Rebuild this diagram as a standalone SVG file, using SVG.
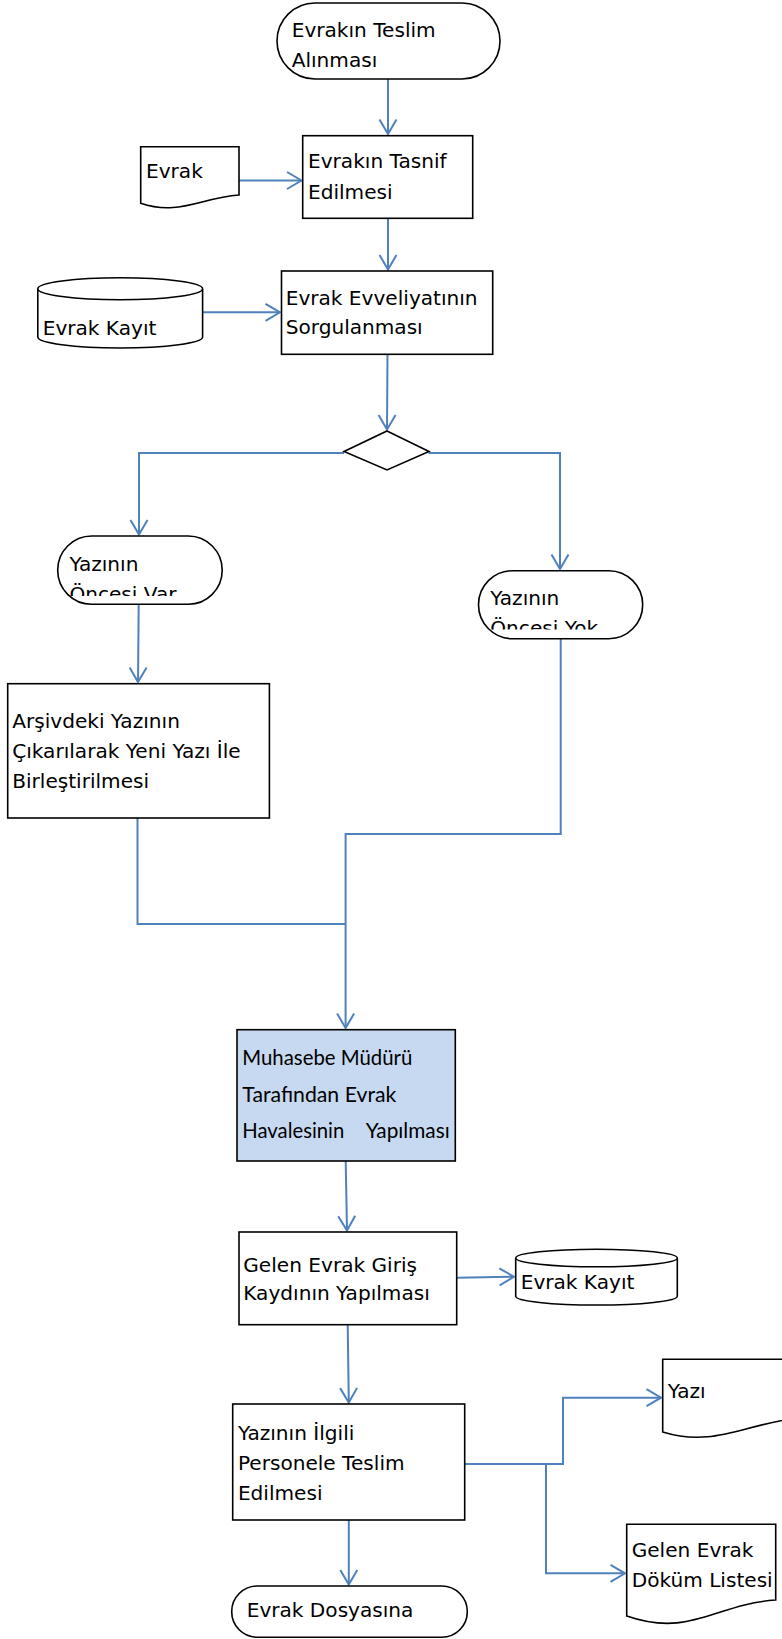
<svg xmlns="http://www.w3.org/2000/svg" width="782" height="1639" viewBox="0 0 782 1639">
<style>
.s{fill:#fff;stroke:#000;stroke-width:1.6}
.c{fill:none;stroke:#4F81BD;stroke-width:2;marker-end:url(#arr)}
.cn{fill:none;stroke:#4F81BD;stroke-width:2}
.t{font-family:"DejaVu Sans",Verdana,sans-serif;font-size:20.1px;fill:#000}
.m{font-family:Lato,"Liberation Sans",sans-serif;font-size:21px;fill:#000}
</style>
<defs>
<marker id="arr" viewBox="0 0 18 20" refX="16" refY="10" markerWidth="18" markerHeight="20" markerUnits="userSpaceOnUse" orient="auto">
<path d="M1.5,1.5 L16,10 L1.5,18.5" fill="none" stroke="#4F81BD" stroke-width="2"/>
</marker>
<clipPath id="clipVar"><rect x="57" y="536" width="166" height="60"/></clipPath>
<clipPath id="clipYok"><rect x="478" y="570" width="166" height="59.5"/></clipPath>
</defs>
<rect width="782" height="1639" fill="#fff"/>
<g id="connectors">
<path class="c" d="M388,79 V134"/>
<path class="c" d="M239,180.5 H301.5"/>
<path class="c" d="M388,218.3 V269.5"/>
<path class="c" d="M202.5,312.3 H280"/>
<path class="c" d="M387.5,354.3 L387,429.5"/>
<path class="c" d="M344,453 H139 V534.5"/>
<path class="c" d="M428.5,453 H560 V569"/>
<path class="c" d="M138.7,604.3 L138,682"/>
<path class="cn" d="M137.5,818 V924 H345.6"/>
<path class="c" d="M560.7,638.7 V834 H345.6 V1028"/>
<path class="c" d="M345.7,1161 L347,1230.5"/>
<path class="c" d="M456.7,1277.7 L514,1276.7"/>
<path class="c" d="M347.7,1324.7 L348.8,1402.5"/>
<path class="c" d="M348.8,1520 V1584.5"/>
<path class="c" d="M464.7,1464 H563 V1397.7 H661"/>
<path class="c" d="M546,1464 V1573.3 H625"/>
</g>
<g id="n_teslim">
<rect class="s" x="277" y="3" width="223" height="76" rx="38"/>
<text class="t" x="291.7" y="37">Evrakın Teslim</text>
<text class="t" x="291.7" y="66.7">Alınması</text>
</g>
<g id="n_tasnif">
<rect class="s" x="302.7" y="135.7" width="170" height="82.6"/>
<text class="t" x="308" y="168">Evrakın Tasnif</text>
<text class="t" x="308" y="199">Edilmesi</text>
</g>
<g id="n_evrak_doc">
<path class="s" d="M140.7,146.7 H239 V195 C200,198 178,216 140.7,203.3 Z"/>
<text class="t" x="146" y="178">Evrak</text>
</g>
<g id="n_sorgu">
<rect class="s" x="281.5" y="271" width="211.2" height="83.3"/>
<text class="t" x="285.7" y="305">Evrak Evveliyatının</text>
<text class="t" x="285.7" y="334">Sorgulanması</text>
</g>
<g id="n_kayit1">
<path class="s" d="M37.8,289 V337 A82.4,11 0 0 0 202.6,337 V289"/>
<ellipse class="s" cx="120.2" cy="288.8" rx="82.4" ry="11"/>
<text class="t" x="42.7" y="335">Evrak Kayıt</text>
</g>
<g id="n_karar">
<polygon class="s" points="387,431 429,451.5 387,470 344,451.5"/>
</g>
<g id="n_var">
<rect class="s" x="57.7" y="536" width="164.5" height="68.3" rx="34"/>
<text class="t" x="69.4" y="571">Yazının</text>
<text class="t" x="69.4" y="600.5" clip-path="url(#clipVar)">Öncesi Var</text>
</g>
<g id="n_yok">
<rect class="s" x="478.5" y="570.7" width="164.2" height="68" rx="34"/>
<text class="t" x="490.3" y="605">Yazının</text>
<text class="t" x="490.3" y="634.5" clip-path="url(#clipYok)">Öncesi Yok</text>
</g>
<g id="n_arsiv">
<rect class="s" x="7.7" y="683.7" width="261.7" height="134.3"/>
<text class="t" x="12.2" y="728.3">Arşivdeki Yazının</text>
<text class="t" x="12.2" y="758.3">Çıkarılarak Yeni Yazı İle</text>
<text class="t" x="12.2" y="788.3">Birleştirilmesi</text>
</g>
<g id="n_muhasebe">
<rect x="237" y="1029.7" width="218.3" height="131.3" fill="#C6D9F1" stroke="#000" stroke-width="1.6"/>
<text class="m" x="242.3" y="1065" textLength="170" lengthAdjust="spacingAndGlyphs">Muhasebe Müdürü</text>
<text class="m" x="242.3" y="1101.7" textLength="154" lengthAdjust="spacingAndGlyphs">Tarafından Evrak</text>
<text class="m" x="242.3" y="1138.3" textLength="102" lengthAdjust="spacingAndGlyphs">Havalesinin</text>
<text class="m" x="365.7" y="1138.3" textLength="84" lengthAdjust="spacingAndGlyphs">Yapılması</text>
</g>
<g id="n_giris">
<rect class="s" x="239" y="1232" width="217.7" height="92.7"/>
<text class="t" x="243.3" y="1271.7">Gelen Evrak Giriş</text>
<text class="t" x="243.3" y="1300">Kaydının Yapılması</text>
</g>
<g id="n_kayit2">
<path class="s" d="M515.7,1258 V1296.2 A80.8,8.8 0 0 0 677.3,1296.2 V1258"/>
<ellipse class="s" cx="596.5" cy="1258" rx="80.8" ry="8.8"/>
<text class="t" x="520.7" y="1289.3">Evrak Kayıt</text>
</g>
<g id="n_ilgili">
<rect class="s" x="232.7" y="1404" width="232" height="116"/>
<text class="t" x="237.9" y="1440">Yazının İlgili</text>
<text class="t" x="237.9" y="1470">Personele Teslim</text>
<text class="t" x="237.9" y="1500">Edilmesi</text>
</g>
<g id="n_dosya">
<rect class="s" x="231.7" y="1586" width="235.6" height="51.3" rx="25.6"/>
<text class="t" x="246.7" y="1617.3">Evrak Dosyasına</text>
</g>
<g id="n_yazi">
<path class="s" d="M662.7,1359.3 H800 V1418 C745,1423 715,1448 662.7,1432 Z"/>
<text class="t" x="667.7" y="1398.3">Yazı</text>
</g>
<g id="n_dokum">
<path class="s" d="M626.7,1524.3 H775.7 V1600 C715,1604 690,1638 626.7,1616 Z"/>
<text class="t" x="631.7" y="1557.3">Gelen Evrak</text>
<text class="t" x="631.7" y="1586.7">Döküm Listesi</text>
</g>
</svg>
